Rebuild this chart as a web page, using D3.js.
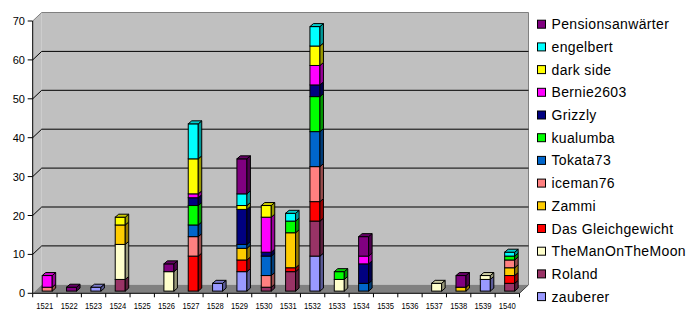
<!DOCTYPE html>
<html><head><meta charset="utf-8">
<script src="https://cdn.jsdelivr.net/npm/d3@7"></script>
<style>html,body{margin:0;padding:0;background:#fff;}svg{display:block;}</style>
</head><body>
<script>
const categories = ["1521","1522","1523","1524","1525","1526","1527","1528","1529","1530","1531","1532","1533","1534","1535","1536","1537","1538","1539","1540"];
// stacking order bottom -> top
const seriesNames = ["zauberer","Roland","TheManOnTheMoon","Das Gleichgewicht","Zammi","iceman76","Tokata73","kualumba","Grizzly","Bernie2603","dark side","engelbert","Pensionsanwärter"];
const seriesColors = ["#9999FF","#993366","#FFFFCC","#FF0000","#FFCC00","#FF8080","#0066CC","#00FF00","#000080","#FF00FF","#FFFF00","#00FFFF","#800080"];
const zauberer  = [0,0,1,0,0,0,0,2,5,0,0,9,0,0,0,0,0,0,3,0];
const roland    = [0,0,0,3,0,0,0,0,0,1,5,9,0,0,0,0,0,0,0,2];
const theMan    = [0,0,0,9,0,5,0,0,0,0,0,0,3,0,0,0,2,0,1,0];
const dasG      = [0,0,0,0,0,0,9,0,3,0,1,5,0,0,0,0,0,0,0,2];
const zammi     = [0,0,0,5,0,0,0,0,3,0,9,0,0,0,0,0,0,1,0,2];
const iceman    = [1,0,0,0,0,0,5,0,0,3,0,9,0,0,0,0,0,0,0,2];
const tokata    = [0,0,0,0,0,0,3,0,1,5,0,9,0,2,0,0,0,0,0,0];
const kualumba  = [0,0,0,0,0,0,5,0,0,0,3,9,2,0,0,0,0,0,0,1];
const grizzly   = [0,0,0,0,0,0,2,0,9,1,0,3,0,5,0,0,0,0,0,0];
const bernie    = [3,0,0,0,0,0,1,0,0,9,0,5,0,2,0,0,0,0,0,0];
const darkSide  = [0,0,0,2,0,0,9,0,1,3,0,5,0,0,0,0,0,0,0,0];
const engelbert = [0,0,0,0,0,0,9,0,3,0,2,5,0,0,0,0,0,0,0,1];
const pensions  = [0,1,0,0,0,2,0,0,9,0,0,0,0,5,0,0,0,3,0,0];
const yTicks = [0,10,20,30,40,50,60,70];

const seriesValues = [zauberer,roland,theMan,dasG,zammi,iceman,tokata,kualumba,grizzly,bernie,darkSide,engelbert,pensions];
const rows = categories.map((c,i)=>{const r={cat:c}; seriesNames.forEach((s,j)=>r[s]=seriesValues[j][i]); return r;});
const stacked = d3.stack().keys(seriesNames)(rows);

const W=690,H=320;
const svg = d3.select("body").append("svg").attr("width",W).attr("height",H);
svg.append("rect").attr("width",W).attr("height",H).attr("fill","#fff");

const x0=32.7, x1=519.5, DX=9, DY=8.5;
const x = d3.scaleBand().domain(categories).range([x0,x1]).padding(0);
const y = d3.scaleLinear().domain([0,70]).range([293.3,21]);
const font = "'Liberation Sans', Arial, sans-serif";

// walls
svg.append("polygon").attr("points",[[x0,y(0)],[x0,y(70)],[x0+DX,y(70)-DY],[x0+DX,y(0)-DY]].join(" ")).attr("fill","#C0C0C0");
svg.append("rect").attr("x",x0+DX).attr("y",y(70)-DY).attr("width",x1-x0).attr("height",y(0)-y(70)).attr("fill","#C0C0C0");
// floor
svg.append("polygon").attr("points",[[x0,y(0)],[x1,y(0)],[x1+DX,y(0)-DY],[x0+DX,y(0)-DY]].join(" ")).attr("fill","#808080");
// wall edges
svg.append("polyline").attr("points",[[x0,y(70)],[x0+DX,y(70)-DY],[x1+DX,y(70)-DY],[x1+DX,y(0)-DY]].join(" ")).attr("fill","none").attr("stroke","#808080").attr("stroke-width",1);
svg.append("line").attr("x1",x1).attr("y1",y(0)).attr("x2",x1+DX).attr("y2",y(0)-DY).attr("stroke","#404040").attr("stroke-width",1);
// gridlines
yTicks.filter(t=>t>0 && t<70).forEach(t=>{
  svg.append("polyline").attr("points",[[x0,y(t)],[x0+DX,y(t)-DY],[x1+DX,y(t)-DY]].join(" ")).attr("fill","none").attr("stroke","#000").attr("stroke-width",1);
});

// bars
const BW=10, bdx=3.5, bdy=3, boff=9.5, base=2.2;
function shade(c,k){const r=d3.rgb(c);return d3.rgb(r.r*k,r.g*k,r.b*k).formatHex();}
categories.forEach((c,i)=>{
  const bx = x(c)+boff;
  let last=-1;
  stacked.forEach((s,j)=>{ if(s[i][1]>s[i][0]) last=j; });
  stacked.forEach((s,j)=>{
    const v0=s[i][0], v1=s[i][1];
    if(v1<=v0) return;
    const yt=y(v1)-base, yb=y(v0)-base;
    const col=seriesColors[j];
    const g=svg.append("g").attr("stroke","#000").attr("stroke-width",1).attr("stroke-linejoin","miter");
    g.append("rect").attr("x",bx).attr("y",yt).attr("width",BW).attr("height",yb-yt).attr("fill",col);
    g.append("polygon").attr("points",[[bx+BW,yt],[bx+BW+bdx,yt-bdy],[bx+BW+bdx,yb-bdy],[bx+BW,yb]].join(" ")).attr("fill",shade(col,0.6));
    if(j===last){
      g.append("polygon").attr("points",[[bx,yt],[bx+bdx,yt-bdy],[bx+BW+bdx,yt-bdy],[bx+BW,yt]].join(" ")).attr("fill",shade(col,0.8));
    }
  });
});

// axes
svg.append("line").attr("x1",x0).attr("x2",x0).attr("y1",y(0)).attr("y2",y(70)).attr("stroke","#000");
svg.append("line").attr("x1",x0).attr("x2",x1).attr("y1",y(0)).attr("y2",y(0)).attr("stroke","#000");
yTicks.forEach(t=>{
  svg.append("line").attr("x1",x0-5).attr("x2",x0).attr("y1",y(t)).attr("y2",y(t)).attr("stroke","#000");
  svg.append("text").attr("x",25).attr("y",y(t)+4).attr("text-anchor","end").attr("font-family",font).attr("font-size",11).attr("fill","#000").text(t);
});
d3.range(categories.length+1).forEach(k=>{
  const xx=x0+k*x.bandwidth();
  svg.append("line").attr("x1",xx).attr("x2",xx).attr("y1",y(0)).attr("y2",y(0)+4).attr("stroke","#000");
});
categories.forEach(c=>{
  svg.append("text").attr("x",x(c)+x.bandwidth()/2).attr("y",308.5).attr("text-anchor","middle").attr("font-family",font).attr("font-size",9).attr("textLength",17).attr("lengthAdjust","spacingAndGlyphs").attr("fill","#000").text(c);
});

// legend (top to bottom: reversed stack order)
const legendOrder = seriesNames.map((s,j)=>j).reverse();
legendOrder.forEach((j,k)=>{
  const cy=24.2+k*22.7;
  svg.append("rect").attr("x",537.5).attr("y",cy-4).attr("width",8).attr("height",8).attr("fill",seriesColors[j]).attr("stroke","#000");
  svg.append("text").attr("x",551.5).attr("y",cy+5).attr("font-family",font).attr("font-size",14).attr("letter-spacing","0.35px").attr("fill","#000").text(seriesNames[j]);
});
</script>
</body></html>
